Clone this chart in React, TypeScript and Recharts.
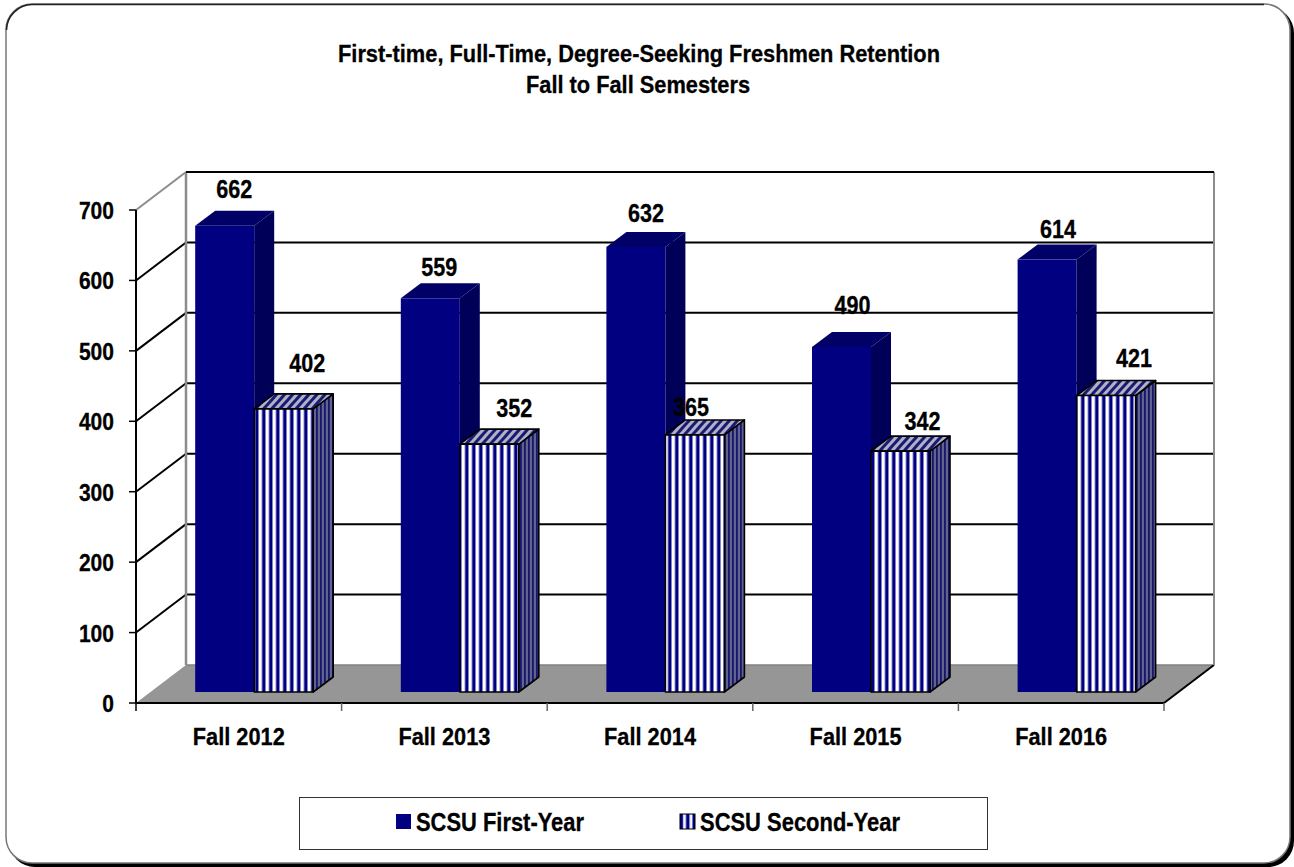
import React from "react";
import { BarChart, Bar, XAxis, YAxis, CartesianGrid, Legend, LabelList } from "recharts";

const categories = ["Fall 2012", "Fall 2013", "Fall 2014", "Fall 2015", "Fall 2016"];
const firstYear = [662, 559, 632, 490, 614];
const secondYear = [402, 352, 365, 342, 421];
const yTicks = [0, 100, 200, 300, 400, 500, 600, 700];
const seriesNames = ["SCSU First-Year", "SCSU Second-Year"];
const titleLines = ["First-time, Full-Time, Degree-Seeking Freshmen Retention", "Fall to Fall Semesters"];

const rows = categories.map((name, i) => ({ name, first: firstYear[i], second: secondYear[i] }));

const W = 1294;
const H = 867;
const PLOT = { left: 136, right: 130, top: 210, bottom: 164 };
const X_AXIS_H = 30;
const WALL_DX = 50;
const WALL_DY = 38;
const BAR_DX = 15.2;
const BAR_DY = 11;
const DEPTH_X = 20;
const DEPTH_Y = 15;
const BAND = (W - PLOT.left - PLOT.right) / categories.length;
const FONT = "'Liberation Sans', Arial, sans-serif";
const NAVY = "#000080";
const FLOOR_Y = H - PLOT.bottom;
const HEAVY = { stroke: "#000", strokeWidth: 0.3 };

const firstNudge = [[9.5, -22], [9, -16], [10, -19], [11, -27], [11, -16]];
const secondNudge = [[23.5, -31], [25, -21], [-4, -13], [22, -15], [28, -22]];

function gridLine(p: any) {
  const { x1, x2, y1, index } = p;
  const backY = y1 - WALL_DY;
  const bx1 = x1 + WALL_DX;
  const bx2 = x2 + WALL_DX;
  const isFloor = Math.abs(y1 - FLOOR_Y) < 1;
  const isTop = Math.abs(y1 - PLOT.top) < 2;
  if (isFloor) {
    return (
      <g key={"g" + index}>
        <polygon points={`${x1},${y1} ${bx1},${backY} ${bx2},${backY} ${x2},${y1}`} fill="#969696" stroke="none" />
        <line x1={bx1} y1={backY} x2={bx2} y2={backY} stroke="#808080" strokeWidth={1.5} />
        <line x1={x2} y1={y1} x2={bx2} y2={backY} stroke="#000" strokeWidth={2} />
      </g>
    );
  }
  return (
    <g key={"g" + index}>
      {isTop && <line x1={bx1} y1={backY} x2={bx1} y2={FLOOR_Y - WALL_DY} stroke="#8c8c8c" strokeWidth={2.5} />}
      {isTop && <line x1={bx2} y1={backY} x2={bx2} y2={FLOOR_Y - WALL_DY} stroke="#8c8c8c" strokeWidth={2} />}
      <line x1={x1} y1={y1} x2={bx1} y2={backY} stroke={isTop ? "#8c8c8c" : "#000"} strokeWidth={2} />
      <line x1={bx1} y1={backY} x2={bx2} y2={backY} stroke="#000" strokeWidth={2} />
    </g>
  );
}

function Box({ x, y, width, height, front, top, side, stroke }: any) {
  const l = x + BAR_DX;
  const r = l + width;
  const t = y - BAR_DY;
  const b = t + height;
  const sp = stroke ? { stroke, strokeWidth: 1.6, strokeLinejoin: "round" as const } : { stroke: "none" };
  return (
    <g>
      <polygon points={`${r},${t} ${r + DEPTH_X},${t - DEPTH_Y} ${r + DEPTH_X},${b - DEPTH_Y} ${r},${b}`} fill={side} {...sp} />
      <polygon points={`${l},${t} ${l + DEPTH_X},${t - DEPTH_Y} ${r + DEPTH_X},${t - DEPTH_Y} ${r},${t}`} fill={top} {...sp} />
      <rect x={l} y={t} width={width} height={height} fill={front} {...sp} />
    </g>
  );
}

const firstShape = (p: any) => <Box {...p} front={NAVY} top="#000066" side="#000058" />;
const secondShape = (p: any) => (
  <Box {...p} front="url(#stripesFront)" top="url(#stripesTop)" side="url(#stripesSide)" stroke="#000" />
);

function makeLabel(nudge: number[][]) {
  return (p: any) => {
    const { x, y, width, value, index } = p;
    const [nx, ny] = nudge[index];
    const cx = x + width / 2 + BAR_DX + nx;
    const cy = y - BAR_DY - DEPTH_Y + ny;
    return (
      <text x={cx} y={cy + 9} textAnchor="middle" fontFamily={FONT} fontWeight="bold" fontSize={25} fill="#000" {...HEAVY} textLength={36} lengthAdjust="spacingAndGlyphs">
        {value}
      </text>
    );
  };
}

function YTick({ y, payload }: any) {
  const s = String(payload.value);
  return (
    <text x={114} y={y + 9} textAnchor="end" fontFamily={FONT} fontWeight="bold" fontSize={24} fill="#000" {...HEAVY} textLength={s.length * 11.7} lengthAdjust="spacingAndGlyphs">
      {s}
    </text>
  );
}

function XTick({ x, payload, index }: any) {
  const left = x - BAND / 2;
  const right = x + BAND / 2;
  return (
    <g>
      <line x1={left} y1={FLOOR_Y} x2={left} y2={FLOOR_Y + 8} stroke={index === 0 ? "#000" : "#666"} strokeWidth={1.5} />
      {index === categories.length - 1 && <line x1={right} y1={FLOOR_Y} x2={right} y2={FLOOR_Y + 8} stroke="#666" strokeWidth={1.5} />}
      <text x={x} y={745} textAnchor="middle" fontFamily={FONT} fontWeight="bold" fontSize={24.5} fill="#000" {...HEAVY} textLength={92} lengthAdjust="spacingAndGlyphs">
        {payload.value}
      </text>
    </g>
  );
}

function LegendBox({ payload }: any) {
  const entries = (payload || []) as any[];
  const markerX = [97, 381];
  const textX = [117, 401];
  const textW = [168, 200];
  return (
    <svg width={690} height={54} style={{ display: "block" }}>
      <rect x={0.5} y={0.5} width={688} height={52} fill="#fff" stroke="#333" strokeWidth={1} />
      {entries.map((e, i) => (
        <g key={e.value}>
          <rect x={markerX[i]} y={17} width={15} height={15} fill={i === 0 ? NAVY : "url(#legendStripes)"} stroke={i === 0 ? "none" : "#000"} strokeWidth={i === 0 ? 0 : 1} />
          <text x={textX[i]} y={34} fontFamily={FONT} fontWeight="bold" fontSize={25} fill="#000" {...HEAVY} textLength={textW[i]} lengthAdjust="spacingAndGlyphs">
            {e.value}
          </text>
        </g>
      ))}
      <defs>
        <pattern id="legendStripes" width="6.5" height="6" patternUnits="userSpaceOnUse" x="381">
          <rect width="6.5" height="6" fill={NAVY} />
          <rect x="3" width="3" height="6" fill="#f4f4fc" />
        </pattern>
      </defs>
    </svg>
  );
}

export default function App() {
  return (
    <div style={{ position: "absolute", left: 0, top: 0, width: W, height: H, overflow: "hidden", background: "#fff" }}>
      <svg width={W} height={H} style={{ position: "absolute", left: 0, top: 0 }}>
        <rect x={9} y={7} width={1285} height={860} rx={26} fill="#000" />
        <rect x={6} y={4} width={1284} height={859} rx={26} fill="#fff" stroke="#777" strokeWidth={1.5} />
        <path d="M6.5 30 A26 26 0 0 1 32 4.5 L1264 4.5" fill="none" stroke="#222" strokeWidth={1.5} />
        <text x={639} y={62} textAnchor="middle" fontFamily={FONT} fontWeight="bold" fontSize={24.5} fill="#000" {...HEAVY} textLength={602} lengthAdjust="spacingAndGlyphs">
          {titleLines[0]}
        </text>
        <text x={638} y={93} textAnchor="middle" fontFamily={FONT} fontWeight="bold" fontSize={24.5} fill="#000" {...HEAVY} textLength={224} lengthAdjust="spacingAndGlyphs">
          {titleLines[1]}
        </text>
      </svg>
      <div style={{ position: "absolute", left: 0, top: 0 }}>
        <BarChart
          width={W}
          height={H}
          data={rows}
          margin={{ left: 0, right: PLOT.right, top: PLOT.top, bottom: PLOT.bottom - X_AXIS_H }}
          barSize={59}
          barGap={0}
        >
          <defs>
            <pattern id="stripesFront" width="7" height="7" patternUnits="userSpaceOnUse">
              <rect width="7" height="7" fill="#ffffff" />
              <rect x="2.6" width="0.7" height="7" fill="#7070c0" />
              <rect x="3.3" width="3" height="7" fill="#000080" />
              <rect x="6.3" width="0.7" height="7" fill="#7070c0" />
            </pattern>
            <pattern id="stripesTop" width="6" height="6" patternUnits="userSpaceOnUse" patternTransform="rotate(42)">
              <rect width="6" height="6" fill="#b0b0c8" />
              <rect x="0" width="3" height="6" fill="#1a1a70" />
            </pattern>
            <pattern id="stripesSide" width="4" height="5" patternUnits="userSpaceOnUse">
              <rect width="4" height="5" fill="#62628f" />
              <rect x="0" width="1.8" height="5" fill="#16166a" />
            </pattern>
          </defs>
          <CartesianGrid horizontal={gridLine} vertical={false} />
          <XAxis dataKey="name" height={X_AXIS_H} tick={<XTick />} tickLine={false} axisLine={{ stroke: "#000", strokeWidth: 2 }} interval={0} />
          <YAxis domain={[0, 700]} ticks={yTicks} tick={<YTick />} tickLine={{ stroke: "#000", strokeWidth: 1.5 }} tickSize={7} axisLine={{ stroke: "#000", strokeWidth: 2 }} interval={0} width={PLOT.left} />
          <Legend
            layout="horizontal"
            verticalAlign="middle"
            align="center"
            content={<LegendBox />}
            wrapperStyle={{ position: "absolute", left: 299, top: 797, width: 690, height: 54, margin: 0 }}
          />
          <Bar dataKey="first" name={seriesNames[0]} isAnimationActive={false} shape={firstShape}>
            <LabelList dataKey="first" content={makeLabel(firstNudge)} />
          </Bar>
          <Bar dataKey="second" name={seriesNames[1]} isAnimationActive={false} shape={secondShape}>
            <LabelList dataKey="second" content={makeLabel(secondNudge)} />
          </Bar>
        </BarChart>
      </div>
    </div>
  );
}
